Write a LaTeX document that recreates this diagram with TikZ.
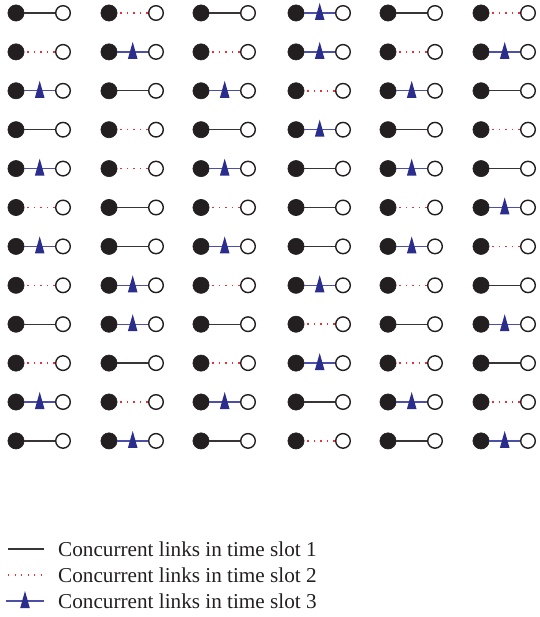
\documentclass[tikz,border=0pt]{standalone}
\usepackage{fontspec}
\setmainfont{Liberation Serif}
\usetikzlibrary{calc}
\definecolor{dotblack}{HTML}{231F20}
\definecolor{linkred}{HTML}{EE2D3A}
\definecolor{linkblue}{HTML}{4B4FA6}
\definecolor{trinavy}{HTML}{2A2D8C}
\tikzset{
  full/.style={circle, fill=dotblack, draw=dotblack, line width=0.6pt, minimum size=16.2pt, inner sep=0pt},
  hollow/.style={circle, fill=white, draw=dotblack, line width=1.4pt, minimum size=14.6pt, inner sep=0pt},
  link1/.style={draw=dotblack!90, line width=1.3pt},
  link2/.style={draw=linkred, line width=1.5pt, dash pattern=on 1.5pt off 5pt, dash phase=-3pt},
  link3/.style={draw=linkblue, line width=1.4pt},
  tri/.style={fill=trinavy},
  legtext/.style={anchor=west, inner sep=0pt, font=\fontsize{21.2}{24}\selectfont, text=dotblack}
}
\begin{document}
\begin{tikzpicture}[x=1pt,y=-1pt]
\useasboundingbox (0,0) rectangle (539,617);
\foreach \r/\types in {
  1/{1,2,1,3,1,2},
  2/{2,3,2,3,2,3},
  3/{3,1,3,2,3,1},
  4/{1,2,1,3,1,2},
  5/{3,2,3,1,3,1},
  6/{2,1,2,1,2,3},
  7/{3,1,3,1,3,2},
  8/{2,3,2,3,2,1},
  9/{1,3,1,2,1,3},
  10/{2,1,2,3,2,1},
  11/{3,2,3,1,3,2},
  12/{1,3,1,2,1,3}}{
  \foreach \t [count=\c] in \types {
    \pgfmathsetmacro\xx{{16,109,201,296,388,481}[\c-1]}
    \pgfmathsetmacro\yy{13+(\r-1)*38.9}
    \node[full] (f-\r-\c) at (\xx,\yy) {};
    \node[hollow] (o-\r-\c) at (\xx+47,\yy) {};
    \draw[link\t] (f-\r-\c) -- (o-\r-\c) coordinate[midway] (m-\r-\c);
    \ifnum\t=3
      \fill[tri, shift={(m-\r-\c)}] (-4.8,7) -- (0,-10) -- (4.8,7) -- cycle;
    \fi
  }
}
% legend
\coordinate (l1a) at (8,549); \coordinate (l1b) at (44,549);
\coordinate (l2a) at (8,575); \coordinate (l2b) at (44,575);
\coordinate (l3a) at (6,601); \coordinate (l3b) at (44,601);
\draw[link1] (l1a) -- (l1b);
\draw[link2, line width=1.2pt, dash pattern=on 1.2pt off 5.3pt, dash phase=0pt] (l2a) -- (l2b);
\draw[link3] (l3a) -- (l3b) coordinate[midway] (lm);
\fill[tri, shift={(lm)}] (-4.8,7) -- (0,-10) -- (4.8,7) -- cycle;
\node[legtext] (t1) at (58,549) {Concurrent links in time slot 1};
\node[legtext] (t2) at (58,575) {Concurrent links in time slot 2};
\node[legtext] (t3) at (58,601) {Concurrent links in time slot 3};
\end{tikzpicture}
\end{document}
